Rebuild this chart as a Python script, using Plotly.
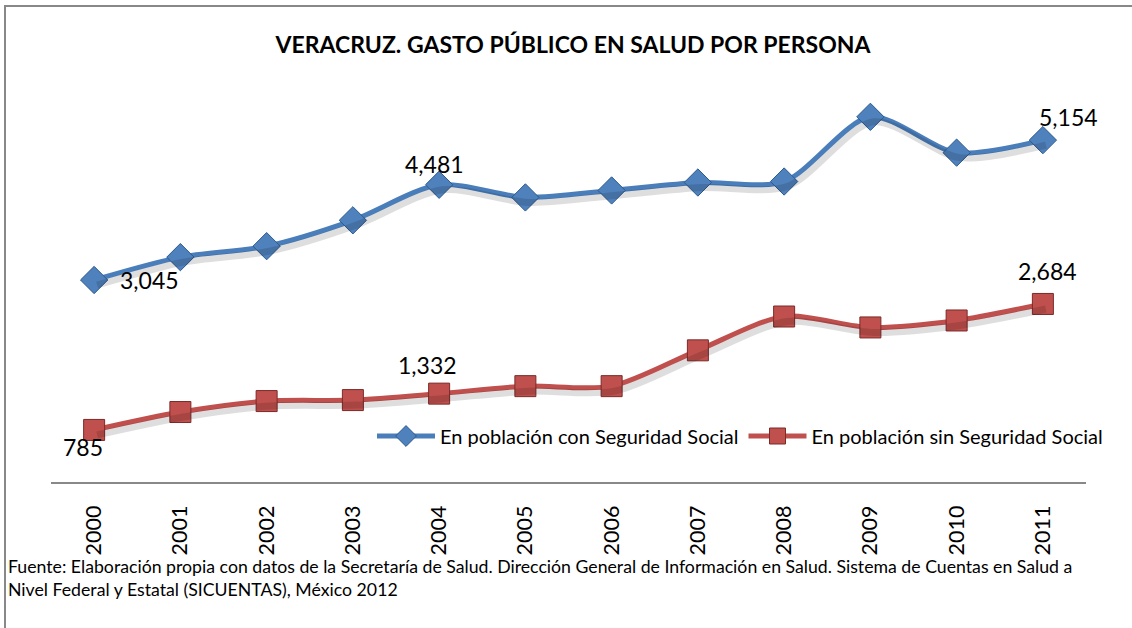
import plotly.graph_objects as go

years = ["2000", "2001", "2002", "2003", "2004", "2005", "2006", "2007", "2008", "2009", "2010", "2011"]
con_ss = [3045, 3390, 3555, 3945, 4481, 4290, 4395, 4515, 4530, 5505, 4965, 5154]
sin_ss = [785, 1055, 1220, 1235, 1332, 1445, 1445, 1985, 2495, 2330, 2435, 2684]
name_con = "En población con Seguridad Social"
name_sin = "En población sin Seguridad Social"
title = "VERACRUZ. GASTO PÚBLICO EN SALUD POR PERSONA"
source = ("Fuente: Elaboración propia con datos de la Secretaría de Salud. Dirección General de Información en Salud. "
          "Sistema de Cuentas en Salud a<br>Nivel Federal y Estatal (SICUENTAS), México 2012")

FONT = "Lato"
BLUE = "#4A7EBB"
RED = "#C0504D"

W, H = 1132, 628
L, R, T, B = 51, 46, 84, 146
PW = W - L - R   # 1035
PH = H - T - B   # 398
YMAX = 6000
cat_px = PW / 12.0
val_px = YMAX / PH

fig = go.Figure()

# soft shadows (same data, drawn on an overlay axis offset by a few pixels)
dx_sh, dy_sh = 3, 5
for series in (con_ss, sin_ss):
    fig.add_trace(go.Scatter(
        x=years, y=series, mode="lines", xaxis="x2", yaxis="y2", showlegend=False, hoverinfo="skip",
        line=dict(color="rgba(0,0,0,0.13)", width=7, shape="spline", smoothing=0.8),
    ))

fig.add_trace(go.Scatter(
    x=years, y=con_ss, name=name_con, mode="lines+markers",
    line=dict(color=BLUE, width=5, shape="spline", smoothing=0.8),
    marker=dict(symbol="diamond", size=21, color="#4F81BD", line=dict(color="#2C5A8F", width=1)),
))
fig.add_trace(go.Scatter(
    x=years, y=sin_ss, name=name_sin, mode="lines+markers",
    line=dict(color=RED, width=5, shape="spline", smoothing=0.8),
    marker=dict(symbol="square", size=21, color="#C0504D", line=dict(color="#7A2A28", width=1)),
))

fig.update_layout(
    width=W, height=H,
    paper_bgcolor="white", plot_bgcolor="rgba(0,0,0,0)",
    margin=dict(l=L, r=R, t=T, b=B),
    title=dict(text="<b>" + title + "</b>", x=573 / W, xanchor="center", y=1 - 45 / H, yanchor="middle",
               font=dict(family=FONT, size=23, color="#000")),
    showlegend=True,
    legend=dict(orientation="h", x=(372 - L) / PW, xanchor="left", y=(482 - 436) / PH, yanchor="middle",
                font=dict(family=FONT, size=20, color="#000"), bgcolor="rgba(0,0,0,0)",
                itemwidth=58, tracegroupgap=0),
    xaxis=dict(type="category", range=[-0.5, 11.5], showgrid=False, zeroline=False,
               showline=True, linecolor="#888888", linewidth=2, ticks="",
               tickangle=-90, ticklabelstandoff=13, tickfont=dict(family=FONT, size=21.5, color="#000")),
    yaxis=dict(range=[0, YMAX], visible=False, showgrid=False, zeroline=False),
    xaxis2=dict(type="category", overlaying="x", range=[-0.5 - dx_sh / cat_px, 11.5 - dx_sh / cat_px],
                visible=False, showgrid=False, zeroline=False),
    yaxis2=dict(overlaying="y", range=[dy_sh * val_px, YMAX + dy_sh * val_px],
                visible=False, showgrid=False, zeroline=False),
    shapes=[dict(type="rect", xref="paper", yref="paper",
                 x0=-46 / PW, x1=1 + 60 / PW, y0=-200 / PH, y1=1 + 78 / PH,
                 line=dict(color="#888888", width=2), fillcolor="rgba(0,0,0,0)", layer="below")],
)

# data labels: (category index, series, xshift px, yshift px)
labels = [
    (0, con_ss, 55, 0),
    (4, con_ss, -5, 21),
    (11, con_ss, 26, 23),
    (0, sin_ss, -11, -17),
    (4, sin_ss, -12, 29),
    (11, sin_ss, 5, 33),
]
for i, series, dx, dy in labels:
    fig.add_annotation(x=i, y=series[i], xref="x", yref="y", text=f"{series[i]:,}", showarrow=False,
                       xshift=dx, yshift=dy, font=dict(family=FONT, size=23, color="#000"))

fig.add_annotation(text=source, xref="paper", yref="paper", x=-45 / PW, xanchor="left",
                   y=-(566 - 482 - 12) / PH, yanchor="top", align="left", showarrow=False,
                   font=dict(family=FONT, size=17.7, color="#000"))

fig.write_html("out.html", config={"displayModeBar": False},
               post_script="document.body.style.margin='0px';")
